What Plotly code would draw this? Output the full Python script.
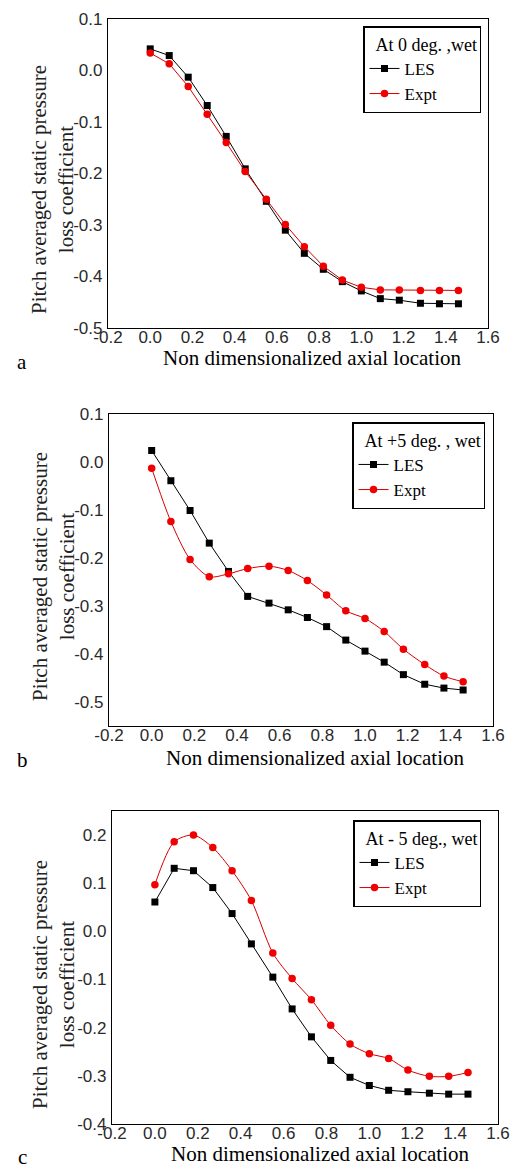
import plotly.graph_objects as go

# ---------------- data ----------------
x_loc = [0.0, 0.09, 0.18, 0.27, 0.36, 0.45, 0.55, 0.64, 0.73, 0.82, 0.91, 1.0, 1.09, 1.18, 1.28, 1.37, 1.46]

les_0 = [0.042, 0.029, -0.013, -0.068, -0.128, -0.191, -0.254, -0.310, -0.355, -0.386, -0.410, -0.428, -0.443, -0.446, -0.452, -0.453, -0.453]
expt_0 = [0.034, 0.013, -0.031, -0.085, -0.140, -0.196, -0.250, -0.299, -0.342, -0.380, -0.407, -0.421, -0.426, -0.426, -0.427, -0.427, -0.427]

les_p5 = [0.024, -0.039, -0.101, -0.169, -0.228, -0.280, -0.294, -0.308, -0.324, -0.343, -0.371, -0.394, -0.417, -0.443, -0.463, -0.471, -0.475]
expt_p5 = [-0.013, -0.124, -0.203, -0.239, -0.233, -0.222, -0.217, -0.226, -0.247, -0.277, -0.310, -0.326, -0.353, -0.390, -0.422, -0.446, -0.458]

les_m5 = [0.061, 0.131, 0.126, 0.091, 0.037, -0.026, -0.095, -0.161, -0.219, -0.268, -0.303, -0.320, -0.330, -0.333, -0.336, -0.338, -0.338]
expt_m5 = [0.097, 0.186, 0.200, 0.174, 0.126, 0.064, -0.045, -0.098, -0.142, -0.195, -0.234, -0.254, -0.264, -0.288, -0.301, -0.301, -0.293]

x_ticks = [-0.2, 0.0, 0.2, 0.4, 0.6, 0.8, 1.0, 1.2, 1.4, 1.6]
x_ticktext = ["-0.2", "0.0", "0.2", "0.4", "0.6", "0.8", "1.0", "1.2", "1.4", "1.6"]
y_ticks_ab = [0.1, 0.0, -0.1, -0.2, -0.3, -0.4, -0.5]
y_ticktext_ab = ["0.1", "0.0", "-0.1", "-0.2", "-0.3", "-0.4", "-0.5"]
y_ticks_c = [0.2, 0.1, 0.0, -0.1, -0.2, -0.3, -0.4]
y_ticktext_c = ["0.2", "0.1", "0.0", "-0.1", "-0.2", "-0.3", "-0.4"]

legend_titles = ["At 0 deg. ,wet", "At +5 deg. , wet", "At - 5 deg., wet"]
panel_letters = ["a", "b", "c"]
x_title = "Non dimensionalized axial location"
y_title = "Pitch averaged static pressure<br>loss coefficient"

# ---------------- layout geometry (pixels) ----------------
W, H = 511, 1164
panels = [
    dict(l=108, r=488, t=19, b=328, yr=[-0.5, 0.1], yt=y_ticks_ab, ytt=y_ticktext_ab,
         les=les_0, expt=expt_0, leg=(481, 26), xt=(312, 358), yti=(53, 190), let=(22, 362), spline=False),
    dict(l=109, r=493, t=414, b=726, yr=[-0.55, 0.1], yt=y_ticks_ab, ytt=y_ticktext_ab,
         les=les_p5, expt=expt_p5, leg=(485, 422), xt=(315, 758), yti=(53, 577), let=(22, 760), spline=True),
    dict(l=112, r=498, t=811, b=1124, yr=[-0.4, 0.25], yt=y_ticks_c, ytt=y_ticktext_c,
         les=les_m5, expt=expt_m5, leg=(481, 820), xt=(320, 1154), yti=(53, 985), let=(22, 1157), spline=True),
]

fig = go.Figure()
layout = dict(
    width=W, height=H, margin=dict(l=0, r=0, t=0, b=0, autoexpand=False),
    paper_bgcolor="white", plot_bgcolor="white", showlegend=True, template="none",
)
annotations = []
tick_font = dict(family="Liberation Sans, Arial", size=17, color="#2a2a2a")
serif = "Liberation Serif, Times New Roman"

for i, p in enumerate(panels):
    n = "" if i == 0 else str(i + 1)
    legname = "legend" + n
    xa, ya = "x" + n, "y" + n
    fig.add_trace(go.Scatter(
        x=x_loc, y=p["les"], name="LES", mode="lines+markers",
        line=dict(color="black", width=1),
        marker=dict(symbol="square", size=7, color="black"),
        xaxis=xa, yaxis=ya, legend=legname))
    fig.add_trace(go.Scatter(
        x=x_loc, y=p["expt"], name="Expt", mode="lines+markers",
        line=dict(color="#d40000", width=1, shape="spline" if p["spline"] else "linear", smoothing=0.8),
        marker=dict(symbol="circle", size=7.5, color="#f00000"),
        xaxis=xa, yaxis=ya, legend=legname))

    layout["xaxis" + n] = dict(
        domain=[p["l"] / W, p["r"] / W], anchor=ya, range=[-0.2, 1.6], automargin=False,
        tickvals=x_ticks, ticktext=x_ticktext, tickfont=tick_font,
        showgrid=False, zeroline=False, showline=True, linecolor="black", linewidth=1.2,
        mirror=True, ticks="", ticklabelstandoff=-7)
    layout["yaxis" + n] = dict(
        domain=[1 - p["b"] / H, 1 - p["t"] / H], anchor=xa, range=p["yr"], automargin=False,
        tickvals=p["yt"], ticktext=p["ytt"], tickfont=tick_font,
        showgrid=False, zeroline=False, showline=True, linecolor="black", linewidth=1.2,
        mirror=True, ticks="", ticklabelstandoff=1)
    layout[legname] = dict(
        x=p["leg"][0] / W, y=1 - p["leg"][1] / H, xanchor="right", yanchor="top",
        xref="paper", yref="paper",
        title=dict(text="&nbsp;&nbsp;" + legend_titles[i], font=dict(family=serif, size=18, color="black")),
        font=dict(family=serif, size=17, color="black"),
        bgcolor="white", bordercolor="black", borderwidth=1.5,
        tracegroupgap=0)

    annotations.append(dict(
        text=x_title, x=p["xt"][0] / W, y=1 - p["xt"][1] / H, xref="paper", yref="paper",
        xanchor="center", yanchor="middle", showarrow=False,
        font=dict(family=serif, size=21, color="black")))
    annotations.append(dict(
        text=y_title, x=p["yti"][0] / W, y=1 - p["yti"][1] / H, xref="paper", yref="paper",
        xanchor="center", yanchor="middle", showarrow=False, textangle=-90,
        font=dict(family=serif, size=21, color="#222")))
    annotations.append(dict(
        text=panel_letters[i], x=p["let"][0] / W, y=1 - p["let"][1] / H, xref="paper", yref="paper",
        xanchor="center", yanchor="middle", showarrow=False,
        font=dict(family=serif, size=21, color="black")))

layout["annotations"] = annotations
fig.update_layout(**layout)
fig.write_html("out.html", config={"displayModeBar": False},
               post_script="document.body.style.margin='0';document.body.style.padding='0';document.body.style.overflow='hidden';")
